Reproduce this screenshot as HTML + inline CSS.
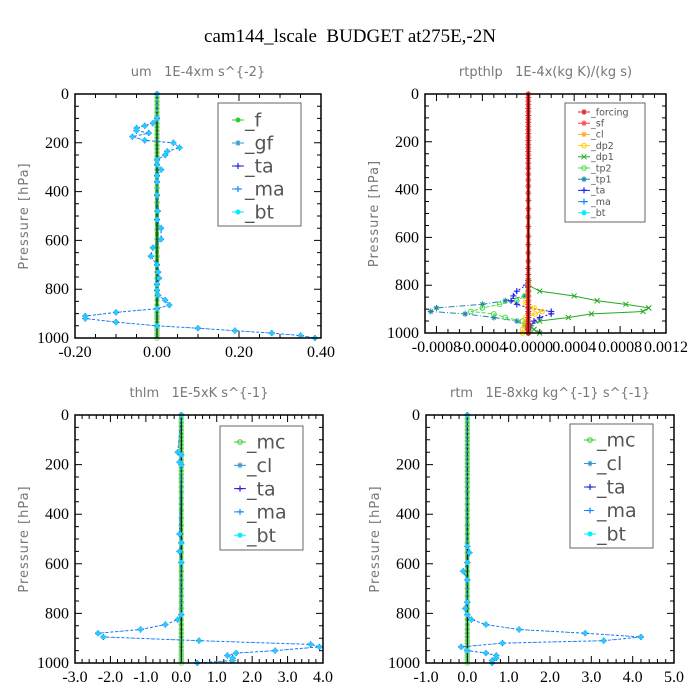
<!DOCTYPE html>
<html><head><meta charset="utf-8">
<style>
html,body{margin:0;padding:0;background:#fff;}
svg{display:block;}
text{white-space:pre;}
.tk{font-family:"Liberation Serif",serif;font-size:16px;fill:#000;}
.st{font-family:"DejaVu Sans","Liberation Sans",sans-serif;font-size:13px;fill:#777;}
.lg{font-family:"DejaVu Sans","Liberation Sans",sans-serif;fill:#555;}
</style></head>
<body>
<svg id="chart" width="700" height="700" viewBox="0 0 700 700" xmlns="http://www.w3.org/2000/svg">
<text x="350" y="42" text-anchor="middle" font-family="Liberation Serif,serif" font-size="19">cam144_lscale  BUDGET at275E,-2N</text>
</svg>
<script>
// shared pressure levels for the zero-line markers
const baseLevels = [0,15,30,45,60,75,90,105,120,135,150,165,180,195,210,225,240,255,270,290,310,335,360,385,415,445,480,515,555,595,630,665,700,730,755,780,805,825,845,865,880,895,910,920,935,950,960,970,980,990,1000];

// panel 1: um
const umLevels = [0,100,120,130,140,150,160,175,190,200,220,235,250,270,290,310,335,360,415,480,515,550,595,630,665,700,730,755,780,805,825,845,865,880,895,910,920,935,950,960,970,980,990,1000];
const umValues = [0,0,-0.01,-0.03,-0.05,-0.05,-0.02,-0.06,-0.03,0.04,0.055,0.025,0.02,0,0,0.01,0,0,0,0.002,0,0.01,0.01,-0.01,-0.015,0,0.003,0.005,0,0,0.003,0.02,0.03,0,-0.1,-0.175,-0.175,-0.1,0,0.1,0.19,0.28,0.35,0.385];
const umTicks = ["-0.20","0.00","0.20","0.40"];
const umTickVals = [-0.2,0,0.2,0.4];

// panel 2: rtpthlp
const rtLevels = [780,800,825,845,865,880,895,910,920,935,950,970,985,1000];
const rtDp1 = [0,0,0.0001,0.0004,0.0006,0.00085,0.00105,0.001,0.00055,0.00035,0.0001,0,0.00005,0.0001];
const rtTp1 = [0,0,0,-0.00003,-0.0002,-0.0004,-0.0008,-0.00085,-0.00055,-0.0003,-0.0001,-0.00003,0,0];
const rtTp2 = [0,0,0,-0.00003,-0.0001,-0.00025,-0.0004,-0.0005,-0.0003,-0.0002,-0.00005,-0.00002,0,0];
const rtTa = [0,-0.00002,-0.0001,-0.00013,-0.00015,-0.0001,0,0.0002,0.0002,0.0001,0.00005,0.00002,0,0];
const rtDp2 = [0,0,0,0,-0.00002,-0.00002,0.00005,0.00012,0.00006,-0.00002,-0.00002,-0.00003,-0.00005,-0.00005];
const rtTicks = ["-0.0008","-0.0004","-0.0000","0.0004","0.0008","0.0012"];
const rtTickVals = [-0.0008,-0.0004,0,0.0004,0.0008,0.0012];

// panel 3: thlm
const thLevels = [0,150,160,190,200,480,515,550,595,805,825,845,865,880,895,910,925,935,950,960,970,980,990,1000];
const thValues = [0,-0.1,0,-0.05,0,-0.05,0,-0.05,0,0,-0.1,-0.45,-1.15,-2.35,-2.2,0.5,3.65,3.9,2.65,1.55,1.3,1.45,1.45,0.45];
const thTicks = ["-3.0","-2.0","-1.0","0.0","1.0","2.0","3.0","4.0"];
const thTickVals = [-3,-2,-1,0,1,2,3,4];

// panel 4: rtm
const rmLevels = [0,530,555,595,630,665,755,780,805,825,845,865,880,895,910,920,935,950,960,970,980,990,1000];
const rmValues = [0,0,0.05,0,-0.1,0,0,-0.05,0,0.1,0.45,1.25,2.85,4.2,3.3,0.85,-0.15,0,0.45,0.7,0.7,0.6,0.6];
const rmTicks = ["-1.0","0.0","1.0","2.0","3.0","4.0","5.0"];
const rmTickVals = [-1,0,1,2,3,4,5];

const svg = document.getElementById('chart');
const NS = 'http://www.w3.org/2000/svg';
function mk(tag, attrs, parent){
  const e = document.createElementNS(NS, tag);
  for (const k in attrs) e.setAttribute(k, attrs[k]);
  (parent||svg).appendChild(e);
  return e;
}
function marker(g, type, x, y, color){
  if (type==='circle') mk('circle',{cx:x,cy:y,r:2.3,fill:'none',stroke:color,'stroke-width':1},g);
  else if (type==='dot') mk('circle',{cx:x,cy:y,r:2.5,fill:color},g);
  else if (type==='plus') mk('path',{d:`M${x-3},${y}h6M${x},${y-3}v6`,stroke:color,'stroke-width':1.2},g);
  else if (type==='x') mk('path',{d:`M${x-2.5},${y-2.5}l5,5M${x-2.5},${y+2.5}l5,-5`,stroke:color,'stroke-width':1},g);
  else if (type==='star') mk('path',{d:`M${x-3},${y}h6M${x},${y-3}v6M${x-2},${y-2}l4,4M${x-2},${y+2}l4,-4`,stroke:color,'stroke-width':1},g);
}

function panel(p){
  const g = mk('g',{});
  
  
  const X = v => p.x0 + (v - p.xmin) / (p.xmax - p.xmin) * (p.x1 - p.x0);
  const Y = v => p.y0 + v / 1000 * (p.y1 - p.y0);
  const t = mk('text',{x:(p.x0+p.x1)/2,y:p.y0-18,'text-anchor':'middle',class:'st','font-size':'14'},g);
  t.textContent = p.title;
  
  
  const yt = mk('text',{x:0,y:0,'text-anchor':'middle',class:'st','font-size':'15','letter-spacing':'1',transform:`translate(${p.x0-47},${(p.y0+p.y1)/2}) rotate(-90)`},g);
  yt.textContent = 'Pressure [hPa]';
  
  
  for (let v=0; v<=1000; v+=50){
    const y = Y(v), L = v%200===0 ? 7 : 4;
    mk('path',{d:`M${p.x0},${y}h${L}M${p.x1},${y}h${-L}`,stroke:'#000','stroke-width':1},g);
    if (v%200===0){
      const tl = mk('text',{x:p.x0-6,y:y+5,'text-anchor':'end',class:'tk'},g);
      tl.textContent = v;
      
      
    }
  }
  p.tickVals.forEach((v,i)=>{
    const x = X(v);
    mk('path',{d:`M${x},${p.y1}v-7M${x},${p.y0}v7`,stroke:'#000','stroke-width':1},g);
    const tl = mk('text',{x:x,y:p.y1+19,'text-anchor':'middle',class:'tk'},g);
    tl.textContent = p.ticks[i];
    
    
    if (i < p.tickVals.length-1){
      const step = (p.tickVals[i+1]-v)/p.minor;
      for (let k=1;k<p.minor;k++){
        const xm = X(v+k*step);
        mk('path',{d:`M${xm},${p.y1}v-4M${xm},${p.y0}v4`,stroke:'#000','stroke-width':1},g);
      }
    }
  });
  p.series.forEach(s=>{
    const sg = mk('g',{},g);
    
    
    const pts = s.levels.map((lv,i)=>[X(s.values[i]), Y(lv)]);
    mk('polyline',{points:pts.map(q=>q.join(',')).join(' '),fill:'none',stroke:s.color,'stroke-width':s.w||1,'stroke-dasharray':s.dash||''},sg);
    if (s.mk) pts.forEach(q=>marker(sg, s.mk, q[0], q[1], s.mkColor||s.color));
  });
  mk('rect',{x:p.x0,y:p.y0,width:p.x1-p.x0,height:p.y1-p.y0,fill:'none',stroke:'#000','stroke-width':1.5},g);
  const lb = mk('rect',{x:p.lg.x,y:p.lg.y,width:p.lg.w,height:p.lg.h,fill:'#fff',stroke:'#666','stroke-width':1},g);
  
  
  p.legend.forEach((e,i)=>{
    const y = p.lg.y0 + i*p.lg.dy;
    const eg = mk('g',{},g);
    
    
    mk('path',{d:`M${p.lg.mx-6},${y}h12`,stroke:e.c,'stroke-width':1,'stroke-dasharray':e.dash||''},eg);
    marker(eg, e.m, p.lg.mx, y, e.c);
    const tx = mk('text',{x:p.lg.mx+7,y:y+p.lg.fs*0.35,class:'lg','font-size':p.lg.fs},eg);
    tx.textContent = e.t;
  });
}

const zeroVals = baseLevels.map(()=>0);
const std5 = [
  {t:'_f',c:'#33cc33',m:'dot'},{t:'_gf',c:'#3399cc',m:'star'},{t:'_ta',c:'#2222dd',m:'plus'},
  {t:'_ma',c:'#1188ff',m:'plus',dash:'4,2'},{t:'_bt',c:'#00eeff',m:'dot'}];
function zeroSeries(){
  return [
    {label:'_zero',levels:baseLevels,values:zeroVals,color:'#33cc33',w:4,mk:'circle',mkColor:'#88dd88'},
    {label:'_axis',levels:[0,1000],values:[0,0],color:'#000',w:1}
  ];
}
function blueSeries(lv, vals){
  return [
    {label:'_ma',levels:lv,values:vals,color:'#1188ff',w:1,dash:'3,2',mk:'plus',mkColor:'#2222dd'},
    {label:'_bt',levels:lv,values:vals,color:'#1144dd',w:0.6,dash:'1,3',mk:'dot',mkColor:'#22ccff'}
  ];
}

panel({name:'panel-um',title:'um   1E-4xm s^{-2}',x0:75,x1:321,y0:94,y1:338,xmin:-0.2,xmax:0.4,
  ticks:umTicks,tickVals:umTickVals,minor:4,
  series:[...zeroSeries(),...blueSeries(umLevels,umValues)],
  lg:{x:218,y:103,w:83,h:123,y0:120,dy:23,mx:238,fs:19},legend:std5});

panel({name:'panel-rtpthlp',title:'rtpthlp   1E-4x(kg K)/(kg s)',x0:425,x1:666,y0:94,y1:333,xmin:-0.0009,xmax:0.0012,
  ticks:rtTicks,tickVals:rtTickVals,minor:4,
  series:[
    {label:'_dp1',levels:rtLevels,values:rtDp1,color:'#22aa22',w:1,mk:'x'},
    {label:'_tp1',levels:rtLevels,values:rtTp1,color:'#2288aa',w:1,dash:'6,2,1,2',mk:'star'},
    {label:'_tp2',levels:rtLevels,values:rtTp2,color:'#44dd44',w:1,dash:'4,2',mk:'circle'},
    {label:'_ta',levels:rtLevels,values:rtTa,color:'#2222ee',w:1,dash:'2,2',mk:'plus'},
    {label:'_dp2',levels:rtLevels,values:rtDp2,color:'#ffcc00',w:1,mk:'circle'},
    {label:'_forcing',levels:baseLevels,values:zeroVals,color:'#ee2222',w:3,mk:'star'},
    {label:'_axis',levels:[0,1000],values:[0,0],color:'#000',w:1}
  ],
  lg:{x:565,y:103,w:80,h:119,y0:112,dy:11.2,mx:584,fs:9.5},
  legend:[{t:'_forcing',c:'#dd2222',m:'star'},{t:'_sf',c:'#ff4444',m:'star'},{t:'_cl',c:'#ffaa33',m:'star'},
    {t:'_dp2',c:'#ffcc00',m:'circle'},{t:'_dp1',c:'#22aa22',m:'x'},{t:'_tp2',c:'#44dd44',m:'circle'},
    {t:'_tp1',c:'#2288aa',m:'star'},{t:'_ta',c:'#2222ee',m:'plus'},{t:'_ma',c:'#1188ff',m:'plus',dash:'4,2'},
    {t:'_bt',c:'#00eeff',m:'dot'}]});

const std5b = [{t:'_mc',c:'#33cc33',m:'circle'},...std5.slice(1).map((e,i)=>i===0?{t:'_cl',c:e.c,m:e.m}:e)];

panel({name:'panel-thlm',title:'thlm   1E-5xK s^{-1}',x0:75,x1:323,y0:415,y1:663,xmin:-3,xmax:4,
  ticks:thTicks,tickVals:thTickVals,minor:5,
  series:[...zeroSeries(),...blueSeries(thLevels,thValues)],
  lg:{x:220,y:426,w:83,h:124,y0:442,dy:23.3,mx:240,fs:19},legend:std5b});

panel({name:'panel-rtm',title:'rtm   1E-8xkg kg^{-1} s^{-1}',x0:426,x1:674,y0:415,y1:663,xmin:-1,xmax:5,
  ticks:rmTicks,tickVals:rmTickVals,minor:5,
  series:[...zeroSeries(),...blueSeries(rmLevels,rmValues)],
  lg:{x:570,y:424,w:83,h:124,y0:440,dy:23.5,mx:590,fs:19},legend:std5b});
</script>
</body></html>
